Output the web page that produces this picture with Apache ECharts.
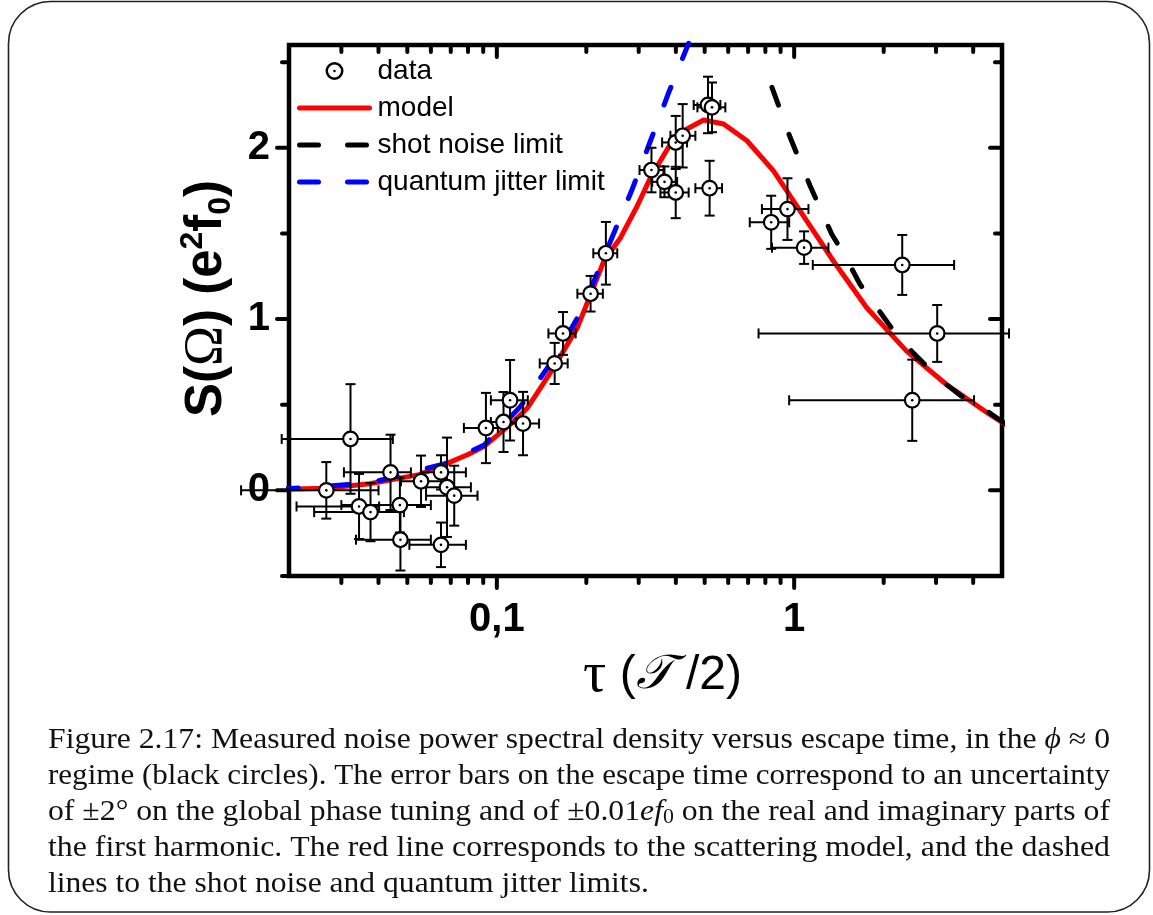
<!DOCTYPE html>
<html><head><meta charset="utf-8">
<script src="https://cdn.jsdelivr.net/npm/echarts@6/dist/echarts.min.js"></script>
<style>html,body{margin:0;padding:0;background:#fff}#c{width:1153px;height:915px}</style>
</head><body><div id="c"></div>
<script>
// ---------------- data ----------------
const dataX    = [0.0267,0.0322,0.0344,0.0376,0.0439,0.0472,0.0474,0.0556,0.0649,0.0649,0.0680,0.0719,0.0919,0.1053,0.1108,0.1225,0.1565,0.1669,0.2067,0.2327,0.3312,0.3663,0.3996,0.3996,0.4217,0.5132,0.5293,0.5196,0.837,0.9495,1.080,2.309,3.027,2.495];
const dataY    = [0.00,0.30,-0.094,-0.127,0.105,-0.086,-0.288,0.053,0.105,-0.318,0.018,-0.031,0.364,0.399,0.526,0.390,0.741,0.916,1.148,1.384,1.870,1.801,1.739,2.031,2.070,2.250,2.236,1.764,1.565,1.642,1.417,1.316,0.916,0.526];
const dataXLo  = [0.0138,0.0189,0.0212,0.0243,0.0306,0.0300,0.0336,0.0476,0.0556,0.0508,0.0578,0.0578,0.0775,0.0955,0.0955,0.1086,0.1394,0.1491,0.1866,0.2111,0.3019,0.3331,0.3550,0.3597,0.3835,0.4593,0.4727,0.4653,0.709,0.779,0.842,1.155,0.759,0.962];
const dataXHi  = [0.0400,0.0447,0.0402,0.0487,0.0514,0.0600,0.0600,0.0649,0.0787,0.0787,0.0818,0.0861,0.1008,0.1158,0.1271,0.1387,0.1731,0.1841,0.2273,0.2541,0.3634,0.4040,0.4417,0.4363,0.4653,0.5646,0.5869,0.5720,0.962,1.117,1.304,3.451,5.279,4.027];
const dataYErr = [0.165,0.32,0.19,0.17,0.22,0.16,0.18,0.15,0.10,0.13,0.29,0.175,0.205,0.175,0.235,0.185,0.12,0.125,0.104,0.183,0.13,0.09,0.15,0.155,0.185,0.165,0.145,0.16,0.155,0.18,0.095,0.175,0.166,0.237];

const modelX = [0.01856,0.0267,0.0373,0.0548,0.0666,0.0807,0.0907,0.1143,0.1268,0.1557,0.1866,0.2291,0.2607,0.2966,0.3287,0.3836,0.425,0.4961,0.579,0.694,0.852,1.047,1.355,1.754,2.388,3.253,4.547,5.377];
const modelY = [0.006,0.012,0.039,0.092,0.15,0.212,0.257,0.404,0.481,0.72,0.95,1.339,1.475,1.66,1.826,2.022,2.099,2.162,2.139,2.041,1.865,1.632,1.339,1.066,0.813,0.618,0.443,0.364];

const shotX = [0.842,0.9696,1.131,1.338,1.483,1.665,1.87,2.183,2.513,3.09,3.655,4.547,5.377];
const shotY = [2.353,2.06,1.778,1.495,1.368,1.203,1.082,0.92,0.803,0.647,0.55,0.452,0.364];

const jitterX = [0.01856,0.0373,0.0666,0.0907,0.1203,0.1578,0.1939,0.2413,0.2853,0.3287,0.3786,0.4417];
const jitterY = [0.006,0.042,0.155,0.265,0.491,0.784,1.057,1.456,1.758,2.041,2.323,2.61];

const xMinorTicks = [0.03,0.04,0.05,0.06,0.07,0.08,0.09,0.2,0.3,0.4,0.5,0.6,0.7,0.8,0.9,2,3,4];
const xMajorTicks = [0.1,1];
const yMinorTicks = [-0.5,0.5,1.5,2.5];
const yMajorTicks = [0,1,2];
const xLabelValues = [0.1,1];
const xLabelTexts  = ['0,1','1'];
const yLabelValues = [0,1,2];
const yLabelTexts  = ['0','1','2'];

const seriesNames = ['data','model','shot noise limit','quantum jitter limit'];

const captionLines = [
  'Figure 2.17: Measured noise power spectral density versus escape time, in the {i|ϕ} ≈ 0',
  'regime (black circles). The error bars on the escape time correspond to an uncertainty',
  'of ±2° on the global phase tuning and of ±0.01{i|ef}{s|0} on the real and imaginary parts of',
  'the first harmonic. The red line corresponds to the scattering model, and the dashed',
  'lines to the shot noise and quantum jitter limits.'
];

// ---------------- layout / style ----------------
const SANS = 'Liberation Sans';
const SERIF = 'Liberation Serif';
const capFont = 29;
const grid = {left: 289, top: 45, width: 713, height: 531};

function measureRich(str){
  const cv = document.createElement('canvas').getContext('2d');
  let w = 0;
  const re = /\{(\w)\|([^}]*)\}|([^{]+)/g; let m;
  while ((m = re.exec(str))){
    if (m[3] !== undefined){ cv.font = capFont + 'px "' + SERIF + '"'; w += cv.measureText(m[3]).width; }
    else if (m[1] === 'i'){ cv.font = 'italic ' + capFont + 'px "' + SERIF + '"'; w += cv.measureText(m[2]).width; }
    else { cv.font = Math.round(capFont*0.7) + 'px "' + SERIF + '"'; w += cv.measureText(m[2]).width; }
  }
  return w;
}
const capLeft = 48, capRight = 1110, capTop = 740, capPitch = 36;
const scales = captionLines.map(l => (capRight - capLeft) / measureRich(l));
const avgScale = (scales[0]+scales[1]+scales[2]+scales[3]) / 4;
const captionGraphics = captionLines.map((l, i) => ({
  type: 'text', x: capLeft, y: capTop + i*capPitch,
  scaleX: i < 4 ? scales[i] : avgScale,
  style: {
    text: l, fontFamily: SERIF, fontSize: capFont, fill: '#111',
    verticalAlign: 'middle', align: 'left',
    rich: {
      i: {fontFamily: SERIF, fontStyle: 'italic', fontSize: capFont, fill: '#111'},
      s: {fontFamily: SERIF, fontSize: Math.round(capFont*0.7), fill: '#111', verticalAlign: 'bottom', padding:[12,0,0,0]}
    }
  }
}));

const ringIcon = 'path://M0,10 A10,10 0 1,1 20,10 A10,10 0 1,1 0,10 Z M2.8,10 A7.2,7.2 0 1,0 17.2,10 A7.2,7.2 0 1,0 2.8,10 Z M8.6,10 A1.4,1.4 0 1,1 11.4,10 A1.4,1.4 0 1,1 8.6,10 Z';

const errData = dataX.map((x, i) => [x, dataY[i], dataXLo[i], dataXHi[i], dataYErr[i]]);
const xTickData = xMinorTicks.map(v => [v, 1, 0]).concat(xMajorTicks.map(v => [v, 1, 1]));
const yTickData = yMinorTicks.map(v => [1, v, 0]).concat(yMajorTicks.map(v => [1, v, 1]));

const tickStyle = {stroke: '#000', lineWidth: 4, lineCap: 'round'};
const barStyle = {stroke: '#000', lineWidth: 2};
function ln(x1, y1, x2, y2, st){ return {type: 'line', shape: {x1, y1, x2, y2}, style: st}; }

function renderBars(params, api){
  const x = api.value(0), y = api.value(1), xl = api.value(2), xh = api.value(3), ye = api.value(4);
  const c = api.coord([x, y]), l = api.coord([xl, y]), r = api.coord([xh, y]);
  const t = api.coord([x, y + ye]), b = api.coord([x, y - ye]);
  const k = 5;
  return {type: 'group', children: [
    ln(l[0], c[1], r[0], c[1], barStyle),
    ln(l[0], c[1]-k, l[0], c[1]+k, barStyle),
    ln(r[0], c[1]-k, r[0], c[1]+k, barStyle),
    ln(c[0], t[1], c[0], b[1], barStyle),
    ln(c[0]-k, t[1], c[0]+k, t[1], barStyle),
    ln(c[0]-k, b[1], c[0]+k, b[1], barStyle)
  ]};
}
function renderCircles(params, api){
  const c = api.coord([api.value(0), api.value(1)]);
  return {type: 'group', children: [
    {type: 'circle', shape: {cx: c[0], cy: c[1], r: 7.3}, style: {fill: '#fff', stroke: '#000', lineWidth: 2.2}},
    {type: 'circle', shape: {cx: c[0], cy: c[1], r: 1.3}, style: {fill: '#000'}}
  ]};
}
function renderXTicks(params, api){
  const cs = params.coordSys;
  const px = api.coord([api.value(0), 1])[0];
  const len = api.value(2) ? 12 : 7;
  const b = cs.y + cs.height, t = cs.y;
  return {type: 'group', children: [ln(px, b, px, b + len, tickStyle), ln(px, t, px, t + len, tickStyle)]};
}
function renderYTicks(params, api){
  const cs = params.coordSys;
  const py = api.coord([1, api.value(1)])[1];
  const len = api.value(2) ? 12 : 7;
  const l = cs.x, r = cs.x + cs.width;
  return {type: 'group', children: [ln(l - len, py, l, py, tickStyle), ln(r - len, py, r, py, tickStyle)]};
}

const hiddenSymbol = {opacity: 0, color: 'transparent', borderWidth: 0};
const legendLine = (color, dashed) => ({color: color, width: 5, cap: 'round', type: dashed ? [19, 29] : 'solid', opacity: 1});

const chart = echarts.init(document.getElementById('c'), null, {renderer: 'canvas'});
chart.setOption({
  animation: false,
  backgroundColor: '#fff',
  textStyle: {fontFamily: SANS},
  grid: {left: grid.left, top: grid.top, width: grid.width, height: grid.height,
         show: true, borderWidth: 4.5, borderColor: '#000', backgroundColor: 'transparent'},
  legend: {
    left: 297, top: 57, orient: 'vertical', padding: 0, itemGap: 9,
    itemWidth: 70, itemHeight: 18, selectedMode: false,
    textStyle: {fontFamily: SANS, fontSize: 28, color: '#000', lineHeight: 28, padding: [0,0,0,3]},
    data: [
      {name: seriesNames[0], icon: ringIcon},
      {name: seriesNames[1], itemStyle: hiddenSymbol, lineStyle: legendLine('#ff0000', false)},
      {name: seriesNames[2], itemStyle: hiddenSymbol, lineStyle: legendLine('#000000', true)},
      {name: seriesNames[3], itemStyle: hiddenSymbol, lineStyle: legendLine('#0000ff', true)}
    ]
  },
  xAxis: {
    type: 'log', logBase: 10, min: 0.02, max: 5,
    axisLine: {show: false}, axisTick: {show: false}, splitLine: {show: false}, minorTick: {show: false},
    axisLabel: {
      margin: 24, fontSize: 40, fontWeight: 'bold', fontFamily: SANS, color: '#000',
      showMinLabel: true, showMaxLabel: true,
      formatter: v => { const i = xLabelValues.findIndex(t => Math.abs(t - v) / t < 1e-6); return i >= 0 ? xLabelTexts[i] : ''; }
    },
    name: '{t|τ}{p| (}{c|𝒯}{p| /2)}', nameLocation: 'middle', nameGap: 70,
    nameTextStyle: {
      padding: [0,0,0,34],
      rich: {
        t: {fontFamily: SERIF, fontSize: 58, color: '#000', lineHeight: 60},
        p: {fontFamily: SANS, fontSize: 48, color: '#000', lineHeight: 60},
        c: {fontFamily: 'DejaVu Serif', fontStyle: 'italic', fontSize: 48, color: '#000', lineHeight: 60}
      }
    }
  },
  yAxis: {
    type: 'value', min: -0.5, max: 2.6, interval: 0.5,
    axisLine: {show: false}, axisTick: {show: false}, splitLine: {show: false},
    axisLabel: {
      margin: 19, fontSize: 40, fontWeight: 'bold', fontFamily: SANS, color: '#000',
      formatter: v => { const i = yLabelValues.findIndex(t => Math.abs(t - v) < 1e-6); return i >= 0 ? yLabelTexts[i] : ''; }
    },
    name: '{b|S(}{o|Ω}{b|) (e}{s|2}{b|f}{u|0}{b|)}', nameLocation: 'middle', nameGap: 52, nameRotate: 90,
    nameTextStyle: {
      padding: [0,0,0,24],
      rich: {
        b: {fontFamily: SANS, fontWeight: 'bold', fontSize: 51, color: '#000', lineHeight: 60},
        o: {fontFamily: SERIF, fontSize: 54, color: '#000', lineHeight: 60},
        s: {fontFamily: SANS, fontWeight: 'bold', fontSize: 32, color: '#000', lineHeight: 60, verticalAlign: 'top', padding: [0,0,20,0]},
        u: {fontFamily: SANS, fontWeight: 'bold', fontSize: 32, color: '#000', lineHeight: 60, verticalAlign: 'bottom', padding: [18,0,0,0]}
      }
    }
  },
  series: [
    {type: 'custom', name: 'ticksX', coordinateSystem: 'cartesian2d', data: xTickData, encode: {x: 0, y: 1},
     renderItem: renderXTicks, silent: true, z: 10},
    {type: 'custom', name: 'ticksY', coordinateSystem: 'cartesian2d', data: yTickData, encode: {x: 0, y: 1},
     renderItem: renderYTicks, silent: true, z: 10},
    {type: 'line', name: seriesNames[1], data: modelX.map((x, i) => [x, modelY[i]]), symbol: 'none', clip: false,
     lineStyle: {color: '#ff0000', width: 5, cap: 'round', join: 'round'}, itemStyle: {color: '#ff0000'}, z: 2},
    {type: 'line', name: seriesNames[2], data: shotX.map((x, i) => [x, shotY[i]]), symbol: 'none', clip: false,
     lineStyle: {color: '#000', width: 5, type: [19, 31], cap: 'round'}, itemStyle: {color: '#000'}, z: 3},
    {type: 'line', name: seriesNames[3], data: jitterX.map((x, i) => [x, jitterY[i]]), symbol: 'none', clip: false,
     lineStyle: {color: '#0000ff', width: 5, type: [19, 31], cap: 'round'}, itemStyle: {color: '#0000ff'}, z: 3},
    {type: 'custom', name: seriesNames[0], coordinateSystem: 'cartesian2d', data: errData, encode: {x: 0, y: 1},
     renderItem: renderBars, itemStyle: {color: '#000'}, z: 5},
    {type: 'custom', name: seriesNames[0], coordinateSystem: 'cartesian2d', data: errData, encode: {x: 0, y: 1},
     renderItem: renderCircles, itemStyle: {color: '#000'}, z: 6}
  ],
  graphic: [
    {type: 'rect', shape: {x: 8.5, y: 1.5, width: 1141, height: 910.5, r: 42}, style: {fill: 'none', stroke: '#222', lineWidth: 1.6}, silent: true}
  ].concat(captionGraphics)
});
</script>
</body></html>
